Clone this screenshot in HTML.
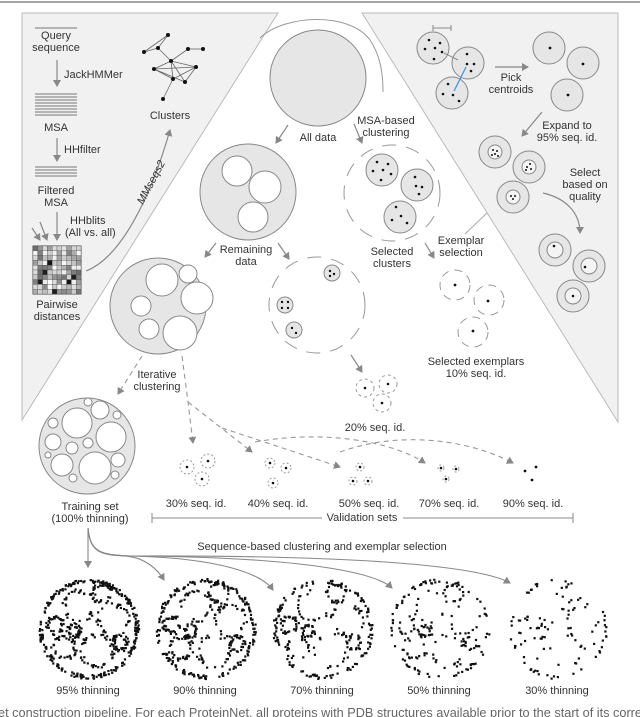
<!DOCTYPE html>
<html><head><meta charset="utf-8"><style>
html,body{margin:0;padding:0;background:#fff;}
svg{display:block;}
text{font-family:"Liberation Sans",sans-serif;font-size:11px;fill:#333;}
</style></head><body>
<svg id="s" width="640" height="717" viewBox="0 0 640 717" xmlns="http://www.w3.org/2000/svg">
<defs>
<marker id="a" markerWidth="8" markerHeight="8" refX="6" refY="4" orient="auto" markerUnits="userSpaceOnUse"><path d="M0,0 L7,4 L0,8 Z" fill="#888"/></marker>
</defs>
<line x1="0" y1="2" x2="640" y2="2" stroke="#888" stroke-width="1.5"/>
<path d="M22,13 L278,13 L22,420 Z" fill="#f1f1f1" stroke="#bbb"/>
<path d="M362,13 L618,13 L618,422 Z" fill="#f1f1f1" stroke="#bbb"/>

<g stroke="#777" stroke-width="1">
<line x1="35" y1="28" x2="77" y2="28"/>
<line x1="35" y1="94" x2="77" y2="94"/><line x1="35" y1="97" x2="77" y2="97"/><line x1="35" y1="100" x2="77" y2="100"/><line x1="35" y1="103" x2="77" y2="103"/><line x1="35" y1="106" x2="77" y2="106"/><line x1="35" y1="109" x2="77" y2="109"/><line x1="35" y1="112" x2="77" y2="112"/><line x1="35" y1="115" x2="77" y2="115"/>
<line x1="35" y1="167" x2="77" y2="167"/><line x1="35" y1="170" x2="77" y2="170"/><line x1="35" y1="173" x2="77" y2="173"/><line x1="35" y1="176" x2="77" y2="176"/>
</g>
<g stroke="#888" stroke-width="1.2" fill="none" marker-end="url(#a)">
<line x1="57" y1="60" x2="57" y2="86"/>
<line x1="57" y1="138" x2="57" y2="161"/>
<line x1="57" y1="212" x2="57" y2="240"/>
<line x1="32" y1="228" x2="40" y2="240"/>
<line x1="40" y1="222" x2="47" y2="240"/>
<path d="M86,271 C120,258 150,200 170,130"/>
</g>
<text x="56" y="39" text-anchor="middle">Query</text>
<text x="56" y="51" text-anchor="middle">sequence</text>
<text x="64" y="78">JackHMMer</text>
<text x="56" y="131" text-anchor="middle">MSA</text>
<text x="64" y="153">HHfilter</text>
<text x="56" y="194" text-anchor="middle">Filtered</text>
<text x="56" y="206" text-anchor="middle">MSA</text>
<text x="70" y="224">HHblits</text>
<text x="65" y="236">(All vs. all)</text>
<g id="mat"></g>
<text x="57" y="308" text-anchor="middle">Pairwise</text>
<text x="57" y="320" text-anchor="middle">distances</text>
<text transform="translate(143,205) rotate(-62)" font-style="italic">MMseqs2</text>
<g stroke="#666" stroke-width="0.8">
<line x1="168" y1="35" x2="158" y2="48"/><line x1="158" y1="48" x2="144" y2="52"/><line x1="168" y1="35" x2="144" y2="52"/>
<line x1="158" y1="48" x2="171" y2="61"/><line x1="188" y1="49" x2="203" y2="49"/><line x1="188" y1="49" x2="171" y2="61"/>
<line x1="171" y1="61" x2="154" y2="69"/><line x1="171" y1="61" x2="196" y2="67"/><line x1="171" y1="61" x2="173" y2="79"/><line x1="171" y1="61" x2="185" y2="82"/>
<line x1="154" y1="69" x2="196" y2="67"/><line x1="154" y1="69" x2="173" y2="79"/><line x1="154" y1="69" x2="185" y2="82"/>
<line x1="196" y1="67" x2="173" y2="79"/><line x1="196" y1="67" x2="185" y2="82"/><line x1="173" y1="79" x2="163" y2="99"/>
</g>
<g fill="#111">
<circle cx="168" cy="35" r="2"/><circle cx="158" cy="48" r="2"/><circle cx="144" cy="52" r="2"/><circle cx="188" cy="49" r="2"/><circle cx="203" cy="49" r="2"/><circle cx="171" cy="61" r="2"/><circle cx="154" cy="69" r="2"/><circle cx="196" cy="67" r="2"/><circle cx="173" cy="79" r="2"/><circle cx="185" cy="82" r="2"/><circle cx="163" cy="99" r="2"/>
</g>
<text x="170" y="119" text-anchor="middle">Clusters</text>

<path d="M260,38 C285,14 350,12 370,40 C380,55 383,72 383,92" fill="none" stroke="#999"/>
<circle cx="318" cy="78" r="48" fill="#e6e6e6" stroke="#888"/>
<text x="318" y="141" text-anchor="middle">All data</text>
<g stroke="#888" stroke-width="1.2" fill="none" marker-end="url(#a)">
<line x1="288" y1="125" x2="276" y2="143"/>
<line x1="354" y1="124" x2="362" y2="143"/>
<line x1="216" y1="243" x2="205" y2="257"/>
<line x1="278" y1="243" x2="289" y2="259"/>
<line x1="425" y1="243" x2="434" y2="258"/>
<line x1="351" y1="355" x2="362" y2="372"/>
<line x1="542" y1="112" x2="522" y2="136"/>
<line x1="495" y1="67" x2="528" y2="67"/>
<path d="M543,193 C565,198 580,212 580,233"/>
</g>
<text x="386" y="124" text-anchor="middle">MSA-based</text>
<text x="386" y="136" text-anchor="middle">clustering</text>

<circle cx="248" cy="192" r="48" fill="#e6e6e6" stroke="#888"/>
<circle cx="237" cy="171" r="15" fill="#fff" stroke="#888"/>
<circle cx="265" cy="187" r="16" fill="#fff" stroke="#888"/>
<circle cx="253" cy="217" r="15" fill="#fff" stroke="#888"/>
<text x="246" y="253" text-anchor="middle">Remaining</text>
<text x="246" y="265" text-anchor="middle">data</text>

<circle cx="158" cy="306" r="48" fill="#e6e6e6" stroke="#888"/>
<g fill="#fff" stroke="#888">
<circle cx="162" cy="280" r="16"/><circle cx="188" cy="274" r="9"/><circle cx="197" cy="298" r="16"/><circle cx="141" cy="306" r="10"/><circle cx="149" cy="329" r="10"/><circle cx="180" cy="333" r="17"/>
</g>
<text x="157" y="378" text-anchor="middle">Iterative</text>
<text x="157" y="390" text-anchor="middle">clustering</text>

<circle cx="317" cy="305" r="48" fill="none" stroke="#999" stroke-dasharray="14,10"/>
<g fill="#e6e6e6" stroke="#888">
<circle cx="332" cy="273" r="8"/><circle cx="285" cy="305" r="8"/><circle cx="294" cy="330" r="8"/>
</g>
<g fill="#111">
<circle cx="330" cy="271" r="1.2"/><circle cx="334" cy="274" r="1.2"/><circle cx="330" cy="276" r="1.2"/>
<circle cx="282" cy="302" r="1.2"/><circle cx="288" cy="302" r="1.2"/><circle cx="282" cy="308" r="1.2"/><circle cx="288" cy="308" r="1.2"/>
<circle cx="292" cy="328" r="1.2"/><circle cx="296" cy="333" r="1.2"/>
</g>
<g fill="none" stroke="#999" stroke-dasharray="3,3">
<circle cx="365" cy="388" r="9"/><circle cx="388" cy="384" r="9"/><circle cx="382" cy="403" r="9"/>
</g>
<g fill="#111"><circle cx="365" cy="388" r="1.3"/><circle cx="388" cy="384" r="1.3"/><circle cx="382" cy="403" r="1.3"/></g>
<text x="375" y="431" text-anchor="middle">20% seq. id.</text>

<circle cx="392" cy="193" r="48" fill="none" stroke="#999" stroke-dasharray="14,10"/>
<g fill="#e6e6e6" stroke="#888">
<circle cx="382" cy="170" r="16"/><circle cx="417" cy="185" r="16"/><circle cx="400" cy="217" r="16"/>
</g>
<g fill="#111">
<circle cx="377" cy="162" r="1.3"/><circle cx="388" cy="164" r="1.3"/><circle cx="373" cy="171" r="1.3"/><circle cx="383" cy="170" r="1.3"/><circle cx="391" cy="174" r="1.3"/><circle cx="381" cy="180" r="1.3"/>
<circle cx="415" cy="177" r="1.3"/><circle cx="416" cy="186" r="1.3"/><circle cx="422" cy="187" r="1.3"/><circle cx="419" cy="194" r="1.3"/>
<circle cx="396" cy="207" r="1.3"/><circle cx="392" cy="220" r="1.3"/><circle cx="401" cy="216" r="1.3"/><circle cx="407" cy="223" r="1.3"/>
</g>
<text x="392" y="255" text-anchor="middle">Selected</text>
<text x="392" y="267" text-anchor="middle">clusters</text>
<line x1="465" y1="234" x2="487" y2="213" stroke="#aaa"/>
<text x="461" y="244" text-anchor="middle">Exemplar</text>
<text x="461" y="256" text-anchor="middle">selection</text>
<g fill="none" stroke="#999" stroke-dasharray="8,6">
<circle cx="455" cy="285" r="15"/><circle cx="489" cy="300" r="15"/><circle cx="473" cy="332" r="15"/>
</g>
<g fill="#111"><circle cx="455" cy="285" r="1.4"/><circle cx="488" cy="301" r="1.4"/><circle cx="473" cy="331" r="1.4"/></g>
<text x="476" y="365" text-anchor="middle">Selected exemplars</text>
<text x="476" y="377" text-anchor="middle">10% seq. id.</text>

<path d="M433,28 L451,28 M433,25 L433,31 M451,25 L451,31" stroke="#888"/>
<g fill="#e6e6e6" stroke="#888">
<circle cx="433" cy="48" r="16"/><circle cx="468" cy="63" r="16"/><circle cx="452" cy="93" r="16"/>
<circle cx="549" cy="48" r="16"/><circle cx="583" cy="63" r="16"/><circle cx="567" cy="95" r="16"/>
<circle cx="495" cy="152" r="16"/><circle cx="529" cy="167" r="16"/><circle cx="513" cy="197" r="16"/>
<circle cx="555" cy="250" r="16"/><circle cx="589" cy="266" r="16"/><circle cx="573" cy="296" r="16"/>
</g>
<g fill="#f4f4f4" stroke="#888">
<circle cx="495" cy="152" r="7"/><circle cx="529" cy="167" r="7"/><circle cx="513" cy="197" r="7"/>
<circle cx="555" cy="250" r="8"/><circle cx="589" cy="266" r="8"/><circle cx="573" cy="296" r="8"/>
</g>
<line x1="466" y1="67" x2="454" y2="91" stroke="#3a8ee6" stroke-width="1.2"/>
<line x1="444" y1="53" x2="458" y2="60" stroke="#777" stroke-width="0.8"/>
<g fill="#111">
<circle cx="429" cy="40" r="1.3"/><circle cx="440" cy="43" r="1.3"/><circle cx="425" cy="49" r="1.3"/><circle cx="435" cy="48" r="1.3"/><circle cx="442" cy="52" r="1.3"/><circle cx="434" cy="59" r="1.3"/>
<circle cx="467" cy="54" r="1.3"/><circle cx="467" cy="64" r="1.3"/><circle cx="474" cy="64" r="1.3"/><circle cx="471" cy="71" r="1.3"/>
<circle cx="448" cy="84" r="1.3"/><circle cx="443" cy="94" r="1.3"/><circle cx="453" cy="95" r="1.3"/><circle cx="459" cy="101" r="1.3"/>
<circle cx="550" cy="48" r="1.4"/><circle cx="583" cy="64" r="1.4"/><circle cx="568" cy="95" r="1.4"/>
<circle cx="493" cy="150" r="1"/><circle cx="497" cy="151" r="1"/><circle cx="495" cy="154" r="1"/><circle cx="492" cy="155" r="1"/><circle cx="498" cy="156" r="1"/>
<circle cx="530" cy="164" r="1"/><circle cx="527" cy="167" r="1"/><circle cx="531" cy="169" r="1"/><circle cx="526" cy="170" r="1"/>
<circle cx="511" cy="196" r="1"/><circle cx="515" cy="196" r="1"/><circle cx="513" cy="199" r="1"/>
<circle cx="554" cy="246" r="1.3"/><circle cx="585" cy="267" r="1.3"/><circle cx="573" cy="296" r="1.3"/>
</g>
<text x="511" y="81" text-anchor="middle">Pick</text>
<text x="511" y="93" text-anchor="middle">centroids</text>
<text x="567" y="129" text-anchor="middle">Expand to</text>
<text x="567" y="141" text-anchor="middle">95% seq. id.</text>
<text x="585" y="176" text-anchor="middle">Select</text>
<text x="585" y="188" text-anchor="middle">based on</text>
<text x="585" y="200" text-anchor="middle">quality</text>

<g fill="none" stroke="#999" stroke-width="1.1" stroke-dasharray="5,4" marker-end="url(#a)">
<line x1="142" y1="356" x2="118" y2="394"/>
<path d="M182,356 L188,402 L193,443"/>
<path d="M188,402 L252,452"/>
<path d="M222,428 L340,467"/>
<path d="M255,442 C320,430 390,440 425,463"/>
<path d="M340,452 C400,430 470,440 513,463"/>
</g>

<circle cx="87" cy="446" r="48" fill="#e6e6e6" stroke="#888"/>
<g fill="#fff" stroke="#888">
<circle cx="77" cy="423" r="15"/><circle cx="100" cy="410" r="9"/><circle cx="88" cy="402" r="4"/><circle cx="117" cy="415" r="4"/><circle cx="111" cy="437" r="15"/><circle cx="53" cy="423" r="5"/><circle cx="53" cy="442" r="8"/><circle cx="72" cy="448" r="6"/><circle cx="88" cy="443" r="5"/><circle cx="62" cy="465" r="11"/><circle cx="95" cy="468" r="16"/><circle cx="118" cy="460" r="7"/><circle cx="115" cy="475" r="4"/><circle cx="48" cy="455" r="3"/><circle cx="73" cy="478" r="4"/>
</g>
<text x="90" y="510" text-anchor="middle">Training set</text>
<text x="90" y="522" text-anchor="middle">(100% thinning)</text>

<g fill="none" stroke="#999" stroke-dasharray="2,2">
<circle cx="187" cy="467" r="7"/><circle cx="208" cy="461" r="7"/><circle cx="202" cy="479" r="7"/>
<circle cx="270" cy="463" r="5"/><circle cx="286" cy="468" r="5"/><circle cx="273" cy="483" r="5"/>
<circle cx="360" cy="467" r="4"/><circle cx="353" cy="481" r="4"/><circle cx="368" cy="481" r="4"/>
<circle cx="441" cy="468" r="3"/><circle cx="456" cy="469" r="3"/><circle cx="446" cy="479" r="3"/>
</g>
<g fill="#111">
<circle cx="187" cy="467" r="1.3"/><circle cx="208" cy="461" r="1.3"/><circle cx="202" cy="479" r="1.3"/>
<circle cx="270" cy="463" r="1.3"/><circle cx="286" cy="468" r="1.3"/><circle cx="273" cy="483" r="1.3"/>
<circle cx="360" cy="467" r="1.3"/><circle cx="353" cy="481" r="1.3"/><circle cx="368" cy="481" r="1.3"/>
<circle cx="441" cy="468" r="1.3"/><circle cx="456" cy="469" r="1.3"/><circle cx="446" cy="479" r="1.3"/>
<circle cx="525" cy="471" r="1.4"/><circle cx="536" cy="467" r="1.4"/><circle cx="532" cy="480" r="1.4"/>
</g>
<text x="196" y="507" text-anchor="middle">30% seq. id.</text>
<text x="278" y="507" text-anchor="middle">40% seq. id.</text>
<text x="369" y="507" text-anchor="middle">50% seq. id.</text>
<text x="449" y="507" text-anchor="middle">70% seq. id.</text>
<text x="533" y="507" text-anchor="middle">90% seq. id.</text>
<g stroke="#888">
<line x1="152" y1="518" x2="322" y2="518"/><line x1="403" y1="518" x2="573" y2="518"/>
<line x1="152" y1="513" x2="152" y2="523"/><line x1="573" y1="513" x2="573" y2="523"/>
</g>
<text x="362" y="521" text-anchor="middle">Validation sets</text>
<text x="322" y="550" text-anchor="middle">Sequence-based clustering and exemplar selection</text>

<g fill="none" stroke="#888" stroke-width="1.1" marker-end="url(#a)">
<line x1="88" y1="528" x2="88" y2="567"/>
<path d="M88,528 C90,552 100,555 125,556 C145,557 158,570 164,580"/>
<path d="M88,528 C90,552 100,555 130,556 C220,558 262,574 273,590"/>
<path d="M88,528 C90,552 100,555 130,556 C300,557 375,572 392,588"/>
<path d="M88,528 C90,552 100,555 130,556 C360,555 480,566 510,583"/>
</g>
<g id="clouds"></g>
<text x="88" y="694" text-anchor="middle">95% thinning</text>
<text x="205" y="694" text-anchor="middle">90% thinning</text>
<text x="322" y="694" text-anchor="middle">70% thinning</text>
<text x="439" y="694" text-anchor="middle">50% thinning</text>
<text x="557" y="694" text-anchor="middle">30% thinning</text>
<text x="-2" y="717" style="font-size:13px;fill:#666" textLength="644" lengthAdjust="spacingAndGlyphs">et construction pipeline. For each ProteinNet, all proteins with PDB structures available prior to the start of its corre</text>
</svg>
<script>
(function(){
var ns="http://www.w3.org/2000/svg";
var seed=7;function rnd(){seed=(seed*16807)%2147483647;return seed/2147483647;}
function el(p,n,a){var e=document.createElementNS(ns,n);for(var k in a)e.setAttribute(k,a[k]);p.appendChild(e);return e;}
var m=document.getElementById("mat");
el(m,"rect",{x:33,y:246,width:48,height:48,fill:"#fff",stroke:"#555"});
for(var i=0;i<10;i++)for(var j=0;j<10;j++){var v=Math.floor(110+rnd()*145);if(i==j&&(i==3||i==7))v=20;if(rnd()<0.05)v=30;
var c="rgb("+v+","+v+","+v+")";el(m,"rect",{x:33+j*4.8,y:246+i*4.8,width:4.8,height:4.8,fill:c,stroke:"#444","stroke-width":0.3});}
var subs=[[0,0,48],[-10,-23,15],[13,-36,9],[24,-9,15],[-34,-4,8],[-25,19,11],[8,22,16],[-15,2,6],[31,14,7]];
var cx=[88,205,322,439,557],n=[520,430,300,200,110];
var g=document.getElementById("clouds");
for(var k=0;k<5;k++){for(var t=0;t<n[k];t++){var s=subs[Math.floor(rnd()*subs.length)];if(rnd()<0.35)s=subs[0];
var a=rnd()*6.283,r=s[2]+(rnd()-0.5)*4;var x=cx[k]+s[0]+r*Math.cos(a),y=628+s[1]+r*Math.sin(a);
var dx=x-cx[k],dy=y-628;if(dx*dx+dy*dy>50*50)continue;
el(g,"rect",{x:x.toFixed(1),y:y.toFixed(1),width:2.2,height:2.2,fill:"#111"});}}
})();
</script>
</body></html>
